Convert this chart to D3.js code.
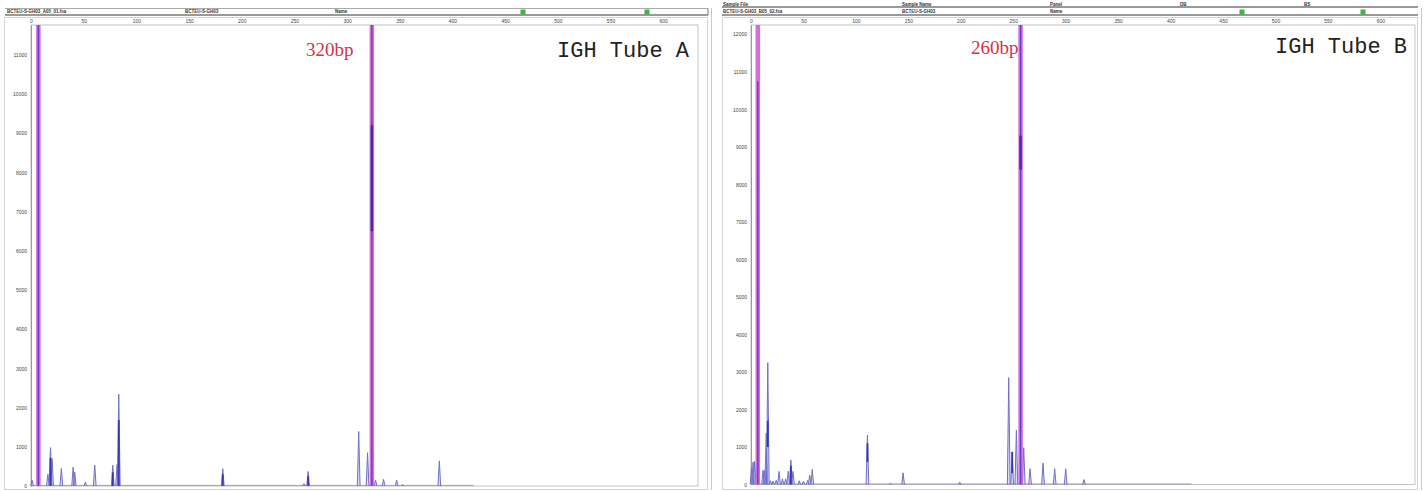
<!DOCTYPE html>
<html><head><meta charset="utf-8">
<script src="https://cdn.jsdelivr.net/npm/d3@7"></script>
<style>body{margin:0;background:#fff}svg{display:block}</style>
</head><body>
<svg id="c" width="1427" height="491"></svg>
<script>
// ---------- data ----------
const xTicks = [0,50,100,150,200,250,300,350,400,450,500,550,600];
const yTicksA = [0,1000,2000,3000,4000,5000,6000,7000,8000,9000,10000,11000];
const yTicksB = [0,1000,2000,3000,4000,5000,6000,7000,8000,9000,10000,11000,12000];
const titles = ["IGH Tube A","IGH Tube B"];
const sizeLabels = ["320bp","260bp"];
// peaks: [size bp, height rfu]
const peaksA = [[1,150],[16,300],[18.5,980],[20,700],[28.8,450],[40,480],[41.5,350],[51.6,100],[60.5,530],
  [77.6,530],[81.7,550],[83.3,2340],[182,440],[259,60],[263,370],[311,1390],[319.4,850],[327,150],
  [334.6,170],[347,150],[352.7,40],[387.5,640]];
const peaksB = [[0.5,450],[2,600],[3.5,620],[11.5,380],[13,370],[14.5,1370],[16,3250],[18.5,100],[21,90],[24,110],
  [26.7,350],[30,150],[33,150],[35.5,350],[38,650],[40,350],[46,100],[50,90],[54,110],[56,250],[58.4,400],
  [111,1320],[133,30],[145,310],[199,60],[245.7,2850],[249,870],[253,1450],[260,980],[266,420],
  [278.4,570],[289.5,420],[300,420],[317.4,130]];
// dark cores inside peaks: [size bp, from rfu, to rfu]
const coresA = [[18.5,0,720],[83.3,0,1680],[182,0,300],[263,0,250],[77.6,0,350]];
const coresB = [[16,1000,1700],[111,600,1100],[249,300,870],[38,0,500]];
// off-scale (clipped) peaks: [size bp, purple-core top rfu]
const offA = [[7,11760],[323.5,11760]];
const offB = [[6.5,10750],[257,12250]];
const darkSegA = [[323.5,6500,9200]];
const darkSegB = [[257,8400,9300]];

// ---------- drawing ----------
const svg = d3.select("#c");
const panels = [
  {peaks:peaksA, cores:coresA, off:offA, seg:darkSegA, yTicks:yTicksA, yMax:11760,
   x0:31, x1:698, y0:486, y1:25, outer:[4.5,711.5], title:titles[0], size:sizeLabels[0],
   sizeX:306, sizeY:56, titleX:557, titleY:57},
  {peaks:peaksB, cores:coresB, off:offB, seg:darkSegB, yTicks:yTicksB, yMax:12250,
   x0:751, x1:1415, y0:484.5, y1:25, outer:[722.5,1421.5], title:titles[1], size:sizeLabels[1],
   sizeX:971, sizeY:54, titleX:1275, titleY:53}
];

panels.forEach((p,i)=>{
  const g = svg.append("g");
  const x = d3.scaleLinear().domain([0,633]).range([p.x0,p.x1]);
  const y = d3.scaleLinear().domain([0,p.yMax]).range([p.y0,p.y1]);
  // outer frame
  g.append("rect").attr("x",p.outer[0]).attr("y",17.5).attr("width",p.outer[1]-p.outer[0]-4)
    .attr("height",472).attr("fill","none").attr("stroke","#d4d4d4");
  g.append("line").attr("x1",p.outer[1]).attr("x2",p.outer[1]).attr("y1",8).attr("y2",490)
    .attr("stroke","#c8c8c8");
  // plot frame
  g.append("rect").attr("x",p.x0).attr("y",p.y1).attr("width",p.x1-p.x0).attr("height",p.y0-p.y1)
    .attr("fill","none").attr("stroke","#c4c4c4");
  // axes
  const xa = g.append("g").attr("transform",`translate(0,${p.y1})`)
    .call(d3.axisTop(x).tickValues(xTicks).tickSize(0).tickPadding(2).tickFormat(d3.format("d")));
  xa.select(".domain").remove();
  xa.selectAll("text").attr("font-size",5).attr("fill","#444").attr("font-family","Liberation Sans");
  const ya = g.append("g").attr("transform",`translate(${p.x0},0)`)
    .call(d3.axisLeft(y).tickValues(p.yTicks).tickSize(0).tickPadding(4).tickFormat(d3.format("d")));
  ya.select(".domain").attr("stroke","#999");
  ya.selectAll("text").attr("font-size",5).attr("fill","#444").attr("font-family","Liberation Sans");
  // baseline trace
  g.append("line").attr("x1",x(0)).attr("x2",x(420)).attr("y1",y(15)).attr("y2",y(15))
    .attr("stroke","#8888cc").attr("stroke-width",0.8);
  // peaks
  const w = 1.3;
  g.selectAll("path.pk").data(p.peaks).join("path").attr("class","pk")
    .attr("d",d=>`M${x(d[0]-w)},${y(0)}L${x(d[0])},${y(d[1])}L${x(d[0]+w)},${y(0)}`)
    .attr("fill","rgba(150,150,225,0.35)").attr("stroke","#7070c8").attr("stroke-width",1);
  g.selectAll("line.core").data(p.cores).join("line").attr("class","core")
    .attr("x1",d=>x(d[0])).attr("x2",d=>x(d[0])).attr("y1",d=>y(d[1])).attr("y2",d=>y(d[2]))
    .attr("stroke","#3a34b8").attr("stroke-width",1.8);
  // off-scale peaks
  g.selectAll("line.off").data(p.off).join("line").attr("class","off")
    .attr("x1",d=>x(d[0])).attr("x2",d=>x(d[0])).attr("y1",y(p.yMax)).attr("y2",y(0))
    .attr("stroke","#d060d4").attr("stroke-width",4.5).attr("opacity",0.9);
  g.selectAll("line.offc").data(p.off).join("line").attr("class","offc")
    .attr("x1",d=>x(d[0])).attr("x2",d=>x(d[0])).attr("y1",d=>y(d[1])).attr("y2",y(0))
    .attr("stroke","#6a3ccc").attr("stroke-width",1.4);
  g.selectAll("line.seg").data(p.seg).join("line").attr("class","seg")
    .attr("x1",d=>x(d[0])).attr("x2",d=>x(d[0])).attr("y1",d=>y(d[1])).attr("y2",d=>y(d[2]))
    .attr("stroke","#4a2aa8").attr("stroke-width",2.5);
  // labels
  g.append("text").attr("x",p.sizeX).attr("y",p.sizeY).text(p.size)
    .attr("font-family","Liberation Serif").attr("font-size",19).attr("fill","#d8304a");
  g.append("text").attr("x",p.titleX).attr("y",p.titleY).text(p.title)
    .attr("font-family","Liberation Mono").attr("font-size",22).attr("fill","#222");
});

// ---------- headers ----------
const hdr = svg.append("g").attr("font-family","Liberation Sans").attr("font-size",4.5)
  .attr("font-weight","bold").attr("fill","#333");
// left header
hdr.append("line").attr("x1",5).attr("x2",708).attr("y1",8.5).attr("y2",8.5).attr("stroke","#aaa");
hdr.append("line").attr("x1",5).attr("x2",708).attr("y1",15).attr("y2",15).attr("stroke","#777").attr("stroke-width",1.6);
hdr.append("line").attr("x1",708).attr("x2",708).attr("y1",8.5).attr("y2",15).attr("stroke","#777");
hdr.append("text").attr("x",7).attr("y",13).text("BCTEU-S-GH03_A05_01.fsa");
hdr.append("text").attr("x",185).attr("y",13).text("BCTEU-S-GH03");
hdr.append("text").attr("x",335).attr("y",13).text("Name");
// right header
hdr.append("line").attr("x1",722).attr("x2",1418).attr("y1",7).attr("y2",7).attr("stroke","#777").attr("stroke-width",1.6);
hdr.append("line").attr("x1",722).attr("x2",1418).attr("y1",15).attr("y2",15).attr("stroke","#777").attr("stroke-width",1.6);
hdr.append("text").attr("x",723).attr("y",5.5).text("Sample File");
hdr.append("text").attr("x",902).attr("y",5.5).text("Sample Name");
hdr.append("text").attr("x",1050).attr("y",5.5).text("Panel");
hdr.append("text").attr("x",1180).attr("y",5.5).text("DB");
hdr.append("text").attr("x",1304).attr("y",5.5).text("BS");
hdr.append("text").attr("x",723).attr("y",13).text("BCTEU-S-GH03_B05_02.fsa");
hdr.append("text").attr("x",902).attr("y",13).text("BCTEU-S-GH03");
hdr.append("text").attr("x",1050).attr("y",13).text("Name");
[523,647,1242,1363].forEach(cx=>{
  hdr.append("rect").attr("x",cx-2.5).attr("y",9.5).attr("width",5).attr("height",5).attr("fill","#3cb83c");
});
</script>
</body></html>
